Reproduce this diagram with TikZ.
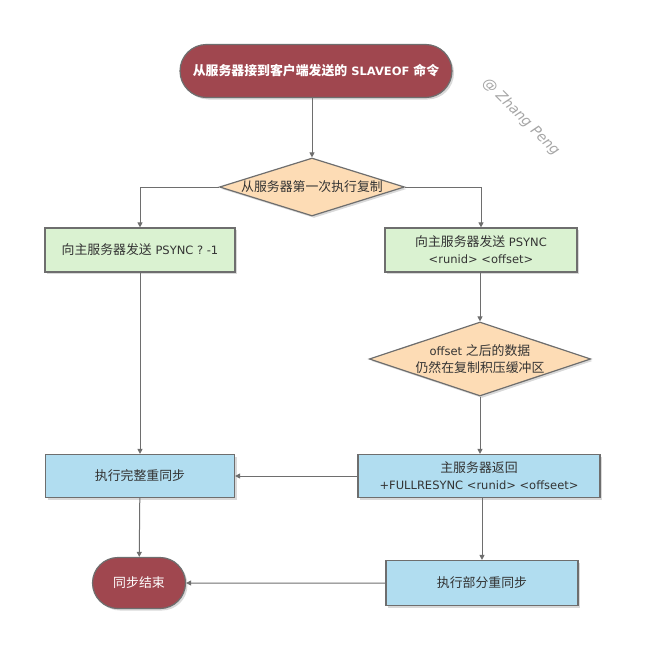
\documentclass[tikz,border=0pt]{standalone}
\usepackage{fontspec}
\setmainfont{DejaVu Sans}
\newfontfamily\cjk[Scale=1.12]{Noto Sans CJK SC}
\usetikzlibrary{shapes.geometric,shapes.misc,shadows,arrows.meta}
\definecolor{termred}{HTML}{A0474F}
\definecolor{condpeach}{HTML}{FDDCB5}
\definecolor{stepgreen}{HTML}{DAF2D1}
\definecolor{stepblue}{HTML}{B1DDF0}
\definecolor{edgegray}{HTML}{6E6E6E}
\begin{document}
\begin{tikzpicture}[x=1pt,y=-1pt,
    font=\fontsize{11.5}{17}\selectfont,
    shade/.style={drop shadow={opacity=0.3,shadow xshift=2pt,shadow yshift=-2pt}},
    terminal/.style={rounded rectangle, draw=edgegray, line width=1.2pt, fill=termred,
      text=white, shade, inner sep=0pt},
    cond/.style={diamond, draw=edgegray, line width=1.2pt, fill=condpeach, shade,
      aspect=3.2, inner sep=0pt, align=center, text=black!80},
    stepbox/.style={rectangle, draw=edgegray, line width=1.2pt, shade,
      align=center, text=black!80, inner sep=0pt},
    flow/.style={draw=edgegray, line width=1pt, -{Triangle[width=5pt,length=5pt]}}]
  \useasboundingbox (0,0) rectangle (645,653);
  \node [terminal, minimum width=272pt, minimum height=53pt,
    font=\fontsize{11.5}{16}\selectfont\bfseries] (recv) at (316,71)
    {{\cjk 从服务器接到客户端发送的} SLAVEOF {\cjk 命令}};
  \node [cond, minimum width=185pt, minimum height=58pt] (first) at (312,187)
    {\cjk 从服务器第一次执行复制};
  \node [stepbox, fill=stepgreen, minimum width=190pt, minimum height=44pt] (full) at (140,250)
    {{\cjk 向主服务器发送} PSYNC ? -1};
  \node [stepbox, fill=stepgreen, minimum width=192pt, minimum height=44pt] (part) at (481,250)
    {{\cjk 向主服务器发送} PSYNC\\ <runid> <offset>};
  \node [cond, minimum width=200pt, minimum height=74pt] (inbuf) at (480,359)
    {offset {\cjk 之后的数据}\\{\cjk 仍然在复制积压缓冲区}};
  \node [stepbox, fill=stepblue, minimum width=189pt, minimum height=43pt] (dofull) at (140,476)
    {\cjk 执行完整重同步};
  \node [stepbox, fill=stepblue, minimum width=242pt, minimum height=43pt] (reply) at (479,476)
    {{\cjk 主服务器返回}\\+FULLRESYNC <runid> <offseet>};
  \node [terminal, minimum width=93pt, minimum height=51pt] (done) at (139,583)
    {\cjk 同步结束};
  \node [stepbox, fill=stepblue, minimum width=192pt, minimum height=45pt] (dopart) at (482,583)
    {\cjk 执行部分重同步};
  % watermark
  \node [rotate=-45, text=black!35, font=\fontsize{14}{16}\selectfont\itshape] (mark) at (521,117)
    {@ Zhang Peng};
  % connectors
  \draw [flow] (recv.south -| first.north) -- (first);
  \draw [flow] (first.west) -| (full.north);
  \draw [flow] (first.east) -| (part.north);
  \draw [flow] (full) -- (dofull);
  \draw [flow] (part.south -| inbuf.north) -- (inbuf);
  \draw [flow] (inbuf.south) -- (inbuf.south |- reply.north);
  \draw [flow] (reply) -- (dofull);
  \draw [flow] (dofull) -- (done);
  \draw [flow] (reply.south -| dopart.north) -- (dopart);
  \draw [flow] (dopart) -- (done);
\end{tikzpicture}
\end{document}
